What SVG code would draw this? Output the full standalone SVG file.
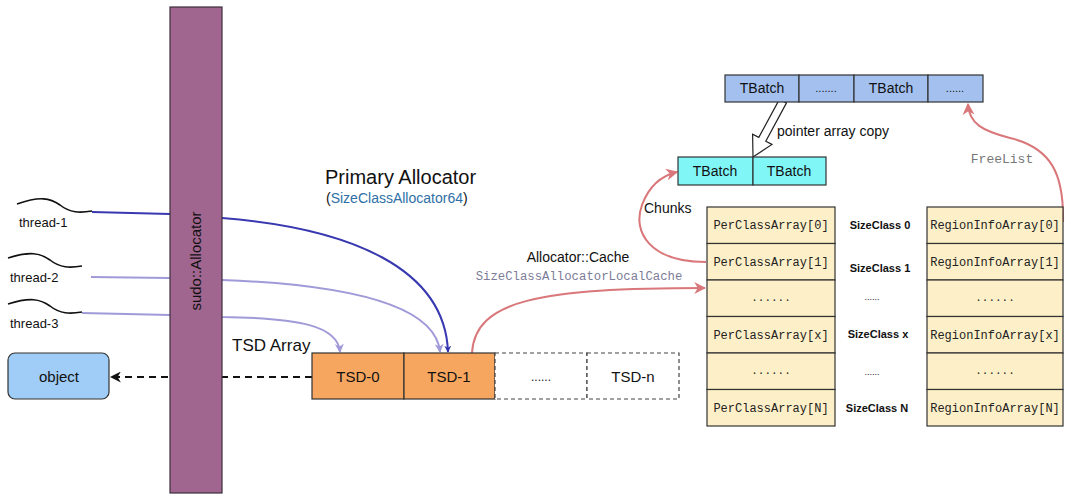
<svg xmlns="http://www.w3.org/2000/svg" width="1080" height="501" viewBox="0 0 1080 501">
<defs>
<style>
.sans{font-family:"Liberation Sans",Arial,sans-serif;fill:#111}
.mono{font-family:"Liberation Mono","Courier New",monospace;fill:#222}
.row{fill:#fdf0c8;stroke:#333;stroke-width:1.2}
.tsd{fill:#f6a65f;stroke:#333;stroke-width:1.2}
.dash{fill:#fff;stroke:#444;stroke-width:1.2;stroke-dasharray:4 3}
.tb{fill:#a3c0ee;stroke:#333;stroke-width:1.2}
.cy{fill:#80f6f6;stroke:#333;stroke-width:1.2}
.red{fill:none;stroke:#d9777a;stroke-width:2}
</style>
<marker id="aDark" viewBox="0 0 10 10" refX="9" refY="5" markerWidth="7" markerHeight="7" orient="auto" markerUnits="userSpaceOnUse">
<path d="M0,0 L10,5 L0,10 L3,5 Z" fill="#3535b0"/>
</marker>
<marker id="aLight" viewBox="0 0 10 10" refX="9" refY="5" markerWidth="9" markerHeight="9" orient="auto" markerUnits="userSpaceOnUse">
<path d="M0,0 L10,5 L0,10 L3,5 Z" fill="#a09ad8"/>
</marker>
<marker id="aRed" viewBox="0 0 10 10" refX="9" refY="5" markerWidth="12" markerHeight="12" orient="auto" markerUnits="userSpaceOnUse">
<path d="M0,0 L10,5 L0,10 L3,5 Z" fill="#d9777a"/>
</marker>
<marker id="aBlack" viewBox="0 0 10 10" refX="9" refY="5" markerWidth="11" markerHeight="11" orient="auto" markerUnits="userSpaceOnUse">
<path d="M0,0 L10,5 L0,10 L3,5 Z" fill="#111"/>
</marker>
</defs>
<rect width="1080" height="501" fill="#ffffff"/>

<g id="connectors">
<path d="M92,212 L170,214 L222,218 C350,228 445,268 448,352" fill="none" stroke="#3838b0" stroke-width="2" marker-end="url(#aDark)"/>
<path d="M91,277 L170,278 L222,280 C330,284 435,300 440,352" fill="none" stroke="#a09ad8" stroke-width="2" marker-end="url(#aLight)"/>
<path d="M82,313 L170,315 L222,317 C300,318 338,326 340,352" fill="none" stroke="#a09ad8" stroke-width="2" marker-end="url(#aLight)"/>
<path d="M312,377 L111,377" fill="none" stroke="#111" stroke-width="1.8" stroke-dasharray="7 5" marker-end="url(#aBlack)"/>
<path class="red" d="M472,353 C475,300 540,288 705,288" marker-end="url(#aRed)"/>
<path class="red" d="M706,262 C650,262 632,232 642,205 C649,186 660,176 677,172" marker-end="url(#aRed)"/>
<path class="red" d="M1063,222 C1064,175 1052,148 1010,138 C983,131 969,124 968,104" marker-end="url(#aRed)"/>
<polygon points="779.5,99.1 786.5,102.9 765.8,141.2 772,144.4 753,157 752.6,134.2 758.8,137.4" fill="#fff" stroke="#222" stroke-width="1.2"/>
</g>

<g id="threads">
<path d="M17,204 C40,196 50,198 60,205 C70,213 80,213 92,211" fill="none" stroke="#111" stroke-width="1.6"/>
<text class="sans" x="19" y="227" font-size="13">thread-1</text>
<path d="M8,258 C30,251 40,253 50,260 C60,268 70,268 82,266" fill="none" stroke="#111" stroke-width="1.6"/>
<text class="sans" x="10" y="282" font-size="13">thread-2</text>
<path d="M8,304 C30,297 40,299 50,306 C60,314 70,314 82,312" fill="none" stroke="#111" stroke-width="1.6"/>
<text class="sans" x="10" y="328" font-size="13">thread-3</text>
</g>

<g id="allocator">
<rect x="170" y="7" width="52" height="486" fill="#a0668f" stroke="#3d2f3d" stroke-width="1.2"/>
<text class="sans" x="0" y="0" font-size="15" text-anchor="middle" transform="translate(201,261) rotate(-90)" fill="#222">sudo::Allocator</text>
</g>

<g id="object">
<rect x="8" y="353" width="101" height="46" rx="7" fill="#9fcdf7" stroke="#333" stroke-width="1.2"/>
<text class="sans" x="59" y="382" font-size="15" text-anchor="middle">object</text>
</g>

<g id="labels">
<text class="sans" x="325" y="184" font-size="20">Primary Allocator</text>
<text class="sans" x="326" y="203" font-size="14" fill="#333">(<tspan fill="#2f6fa6">SizeClassAllocator64</tspan>)</text>
<text class="sans" x="232" y="351" font-size="17">TSD Array</text>
<text class="sans" x="578" y="262" font-size="14" text-anchor="middle">Allocator::Cache</text>
<text class="mono" x="579" y="280" font-size="12.3" text-anchor="middle" style="fill:#7c7c98">SizeClassAllocatorLocalCache</text>
<text class="sans" x="644" y="213" font-size="14">Chunks</text>
<text class="sans" x="777" y="136" font-size="14">pointer array copy</text>
<text class="mono" x="1002" y="163" font-size="13" text-anchor="middle" style="fill:#777">FreeList</text>
</g>

<g id="tsd-array">
<rect class="tsd" x="312" y="353" width="92" height="46"/>
<text class="sans" x="358" y="382" font-size="15" text-anchor="middle">TSD-0</text>
<rect class="tsd" x="404" y="353" width="91" height="46"/>
<text class="sans" x="449" y="382" font-size="15" text-anchor="middle">TSD-1</text>
<rect class="dash" x="495" y="353" width="92" height="46"/>
<text class="sans" x="541" y="381" font-size="12" text-anchor="middle">......</text>
<rect class="dash" x="587" y="353" width="92" height="46"/>
<text class="sans" x="633" y="382" font-size="15" text-anchor="middle">TSD-n</text>
</g>

<g id="tbatch-list">
<rect class="tb" x="725" y="75" width="74" height="27"/>
<text class="sans" x="762" y="93" font-size="14" text-anchor="middle">TBatch</text>
<rect class="tb" x="799" y="75" width="55" height="27"/>
<text class="sans" x="826" y="92" font-size="11" text-anchor="middle">.......</text>
<rect class="tb" x="854" y="75" width="74" height="27"/>
<text class="sans" x="891" y="93" font-size="14" text-anchor="middle">TBatch</text>
<rect class="tb" x="928" y="75" width="55" height="27"/>
<text class="sans" x="955" y="92" font-size="11" text-anchor="middle">......</text>
</g>

<g id="tbatch-cache">
<rect class="cy" x="678" y="157" width="75" height="28"/>
<text class="sans" x="715" y="176" font-size="14" text-anchor="middle">TBatch</text>
<rect class="cy" x="753" y="157" width="73" height="28"/>
<text class="sans" x="789" y="176" font-size="14" text-anchor="middle">TBatch</text>
</g>

<g id="per-class-array">
<rect class="row" x="707" y="207" width="128" height="36.5"/>
<rect class="row" x="707" y="243.5" width="128" height="36.5"/>
<rect class="row" x="707" y="280" width="128" height="36.5"/>
<rect class="row" x="707" y="316.5" width="128" height="36.5"/>
<rect class="row" x="707" y="353" width="128" height="36.5"/>
<rect class="row" x="707" y="389.5" width="128" height="36.5"/>
<text class="mono" x="771" y="229" font-size="12" text-anchor="middle">PerClassArray[0]</text>
<text class="mono" x="771" y="266" font-size="12" text-anchor="middle">PerClassArray[1]</text>
<text class="mono" x="771" y="301" font-size="11" text-anchor="middle">......</text>
<text class="mono" x="771" y="339" font-size="12" text-anchor="middle">PerClassArray[x]</text>
<text class="mono" x="771" y="374" font-size="11" text-anchor="middle">......</text>
<text class="mono" x="771" y="412" font-size="12" text-anchor="middle">PerClassArray[N]</text>
</g>

<g id="size-classes">
<text class="sans" x="880" y="229" font-size="11" font-weight="bold" text-anchor="middle">SizeClass 0</text>
<text class="sans" x="880" y="272" font-size="11" font-weight="bold" text-anchor="middle">SizeClass 1</text>
<text class="sans" x="872" y="300" font-size="9" text-anchor="middle">......</text>
<text class="sans" x="878" y="338" font-size="11" font-weight="bold" text-anchor="middle">SizeClass x</text>
<text class="sans" x="872" y="375" font-size="9" text-anchor="middle">......</text>
<text class="sans" x="877" y="412" font-size="11" font-weight="bold" text-anchor="middle">SizeClass N</text>
</g>

<g id="region-info-array">
<rect class="row" x="927" y="207" width="136" height="36.5"/>
<rect class="row" x="927" y="243.5" width="136" height="36.5"/>
<rect class="row" x="927" y="280" width="136" height="36.5"/>
<rect class="row" x="927" y="316.5" width="136" height="36.5"/>
<rect class="row" x="927" y="353" width="136" height="36.5"/>
<rect class="row" x="927" y="389.5" width="136" height="36.5"/>
<text class="mono" x="995" y="229" font-size="12" text-anchor="middle">RegionInfoArray[0]</text>
<text class="mono" x="995" y="266" font-size="12" text-anchor="middle">RegionInfoArray[1]</text>
<text class="mono" x="995" y="301" font-size="11" text-anchor="middle">......</text>
<text class="mono" x="995" y="339" font-size="12" text-anchor="middle">RegionInfoArray[x]</text>
<text class="mono" x="995" y="374" font-size="11" text-anchor="middle">......</text>
<text class="mono" x="995" y="412" font-size="12" text-anchor="middle">RegionInfoArray[N]</text>
</g>
</svg>
